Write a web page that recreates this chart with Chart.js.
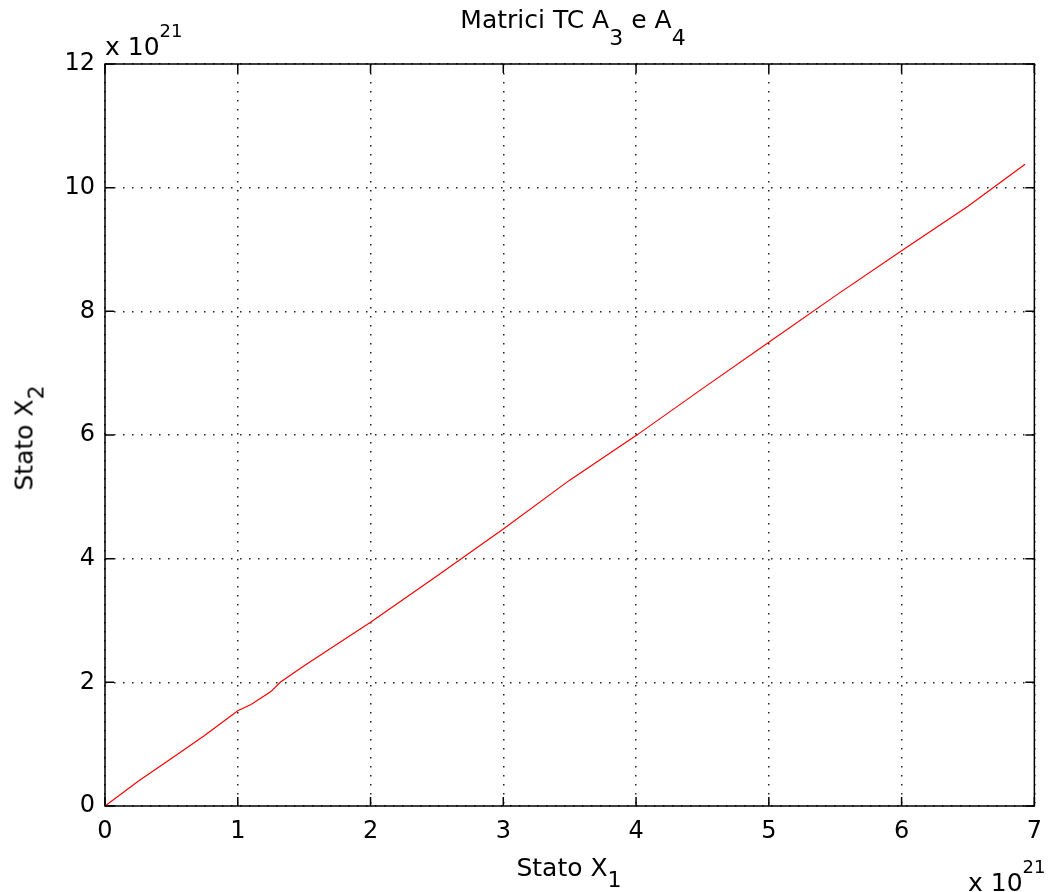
<html>
<head>
<script src="https://cdn.jsdelivr.net/npm/chart.js"></script>
<style>
    body { margin: 0; background: #fff; font-family: "DejaVu Sans", sans-serif; }
    .wrap { position: relative; width: 1053px; height: 892px; }
    .lbl { position: absolute; color: #000; font-size: 25px; white-space: nowrap; line-height: 1; }
    .lbl sub, .lbl sup { line-height: 0; }
    .lbl sub { font-size: 22px; vertical-align: -11px; }
    .lbl sub.low { vertical-align: -17px; }
    .lbl sup { font-size: 18px; vertical-align: 18px; }
</style>
</head>
<body>
<div class="wrap">
    <canvas id="plot" width="1053" height="892"></canvas>
    <div class="lbl" style="left:0; width:1146px; text-align:center; top:7px;">Matrici TC A<sub class="low">3</sub> e A<sub class="low">4</sub></div>
    <div class="lbl" style="left:0; width:1138px; text-align:center; top:855px;">Stato X<sub>1</sub></div>
    <div class="lbl" style="left:24px; top:438px; transform: translate(-50%, -50%) rotate(-90deg);">Stato X<sub>2</sub></div>
    <div class="lbl" style="left:105px; top:31px;">x 10<sup>21</sup></div>
    <div class="lbl" style="left:968px; top:867px;">x 10<sup>21</sup></div>
</div>
<script>
    // state trajectory (units of 1e21)
    const stateX1 = [0, 0.25, 0.5, 0.75, 1.0, 1.1, 1.25, 1.32, 1.5, 2, 2.5, 3, 3.5, 4, 4.5, 5, 5.5, 6, 6.5, 6.93];
    const stateX2 = [0, 0.40, 0.77, 1.14, 1.54, 1.64, 1.85, 2.0, 2.27, 2.97, 3.72, 4.48, 5.27, 5.99, 6.75, 7.5, 8.25, 8.98, 9.7, 10.38];
    const xTicks = [0, 1, 2, 3, 4, 5, 6, 7];
    const yTicks = [0, 2, 4, 6, 8, 10, 12];

    const points = stateX1.map(function(x, i){ return {x: x, y: stateX2[i]}; });

    // matlab style box with inward ticks
    const boxPlugin = {
        id: 'box',
        afterDraw(chart){
            const ctx = chart.ctx;
            const a = chart.chartArea;
            const xs = chart.scales.x, ys = chart.scales.y;
            ctx.save();
            ctx.strokeStyle = '#000';
            ctx.lineWidth = 1.5;
            ctx.strokeRect(a.left, a.top, a.right - a.left, a.bottom - a.top);
            ctx.beginPath();
            xTicks.forEach(function(v){
                const px = xs.getPixelForValue(v);
                ctx.moveTo(px, a.bottom); ctx.lineTo(px, a.bottom - 9);
                ctx.moveTo(px, a.top); ctx.lineTo(px, a.top + 9);
            });
            yTicks.forEach(function(v){
                const py = ys.getPixelForValue(v);
                ctx.moveTo(a.left, py); ctx.lineTo(a.left + 9, py);
                ctx.moveTo(a.right, py); ctx.lineTo(a.right - 9, py);
            });
            ctx.stroke();
            ctx.restore();
        }
    };

    const tickFont = { family: 'DejaVu Sans', size: 24 };

    new Chart(document.getElementById('plot'), {
        type: 'scatter',
        data: {
            datasets: [{
                data: points,
                showLine: true,
                borderColor: '#ff0000',
                borderWidth: 1.2,
                pointRadius: 0,
                tension: 0
            }]
        },
        options: {
            responsive: false,
            animation: false,
            layout: { padding: { top: 64, right: 11, left: 0, bottom: 0 } },
            plugins: { legend: { display: false }, tooltip: { enabled: false } },
            scales: {
                x: {
                    type: 'linear',
                    min: 0, max: 7,
                    afterFit(scale){ scale.height = 86; },
                    afterBuildTicks(scale){ scale.ticks = xTicks.map(function(v){ return {value: v}; }); },
                    ticks: { color: '#000', padding: 11, font: tickFont },
                    grid: { color: '#222', lineWidth: 1.5, drawTicks: false },
                    border: { display: false, dash: [1.5, 7.5] }
                },
                y: {
                    type: 'linear',
                    min: 0, max: 12,
                    afterFit(scale){ scale.width = 105; },
                    afterBuildTicks(scale){ scale.ticks = yTicks.map(function(v){ return {value: v}; }); },
                    ticks: { color: '#000', padding: 10, font: tickFont },
                    grid: { color: '#222', lineWidth: 1.5, drawTicks: false },
                    border: { display: false, dash: [1.5, 7.5] }
                }
            }
        },
        plugins: [boxPlugin]
    });
</script>
</body>
</html>
